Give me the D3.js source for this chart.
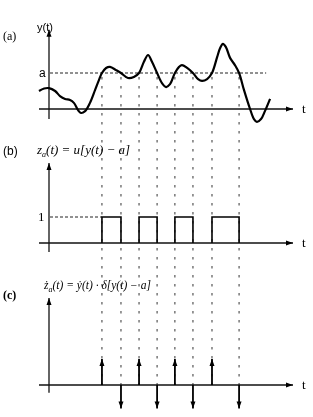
<!DOCTYPE html>
<html lang="en">
<head>
    <meta charset="UTF-8">
    <title>Level crossings</title>
    <style>
        body { margin: 0; background: #fff; }
        svg { will-change: transform; }
        .axis { stroke: #111; stroke-width: 1.3px; fill: none; }
        .curve { stroke: #000; stroke-width: 2.2px; fill: none; }
        .level { stroke: #222; stroke-width: 1px; stroke-dasharray: 3,2; }
        .drop { stroke: #333; stroke-width: 1px; stroke-dasharray: 2.5,6.5; }
        .pulse { stroke: #000; stroke-width: 1.6px; fill: none; }
        .impulse { stroke: #000; stroke-width: 1.8px; }
        .serif { font-family: "Liberation Serif", "Times New Roman", "DejaVu Serif", serif; fill: #000; }
        .sans { font-family: "Liberation Sans", Arial, sans-serif; fill: #000; }
        .formula { font-family: "Liberation Serif", "Times New Roman", "DejaVu Serif", serif; font-style: italic; fill: #000; }
        .formula tspan { fill: #000; }
    </style>
</head>
<body>
    <script src="https://d3js.org/d3.v7.min.js"></script>
    <script>
        // y(t) (a = 1)
        const tValues = [-0.41, -0.20, 0, 0.25, 0.45, 0.66, 0.86, 1.02, 1.19, 1.31, 1.48, 1.68, 1.89, 2.05,
            2.17, 2.34, 2.50, 2.75, 2.95, 3.24, 3.48, 3.69, 3.89, 4.06, 4.22, 4.43, 4.63, 4.80, 4.96,
            5.16, 5.33, 5.45, 5.66, 5.90, 6.11, 6.27, 6.48, 6.68, 6.89, 7.01, 7.13, 7.25, 7.42, 7.62,
            7.79, 7.99, 8.24, 8.40, 8.52, 8.69, 8.85, 9.06];
        const yValues = [0.50, 0.57, 0.58, 0.50, 0.36, 0.28, 0.25, 0.17, -0.03, -0.11, -0.06, 0.17, 0.53, 0.81,
            1.00, 1.14, 1.17, 1.08, 1.00, 0.86, 0.89, 1.00, 1.31, 1.50, 1.31, 1.00, 0.72, 0.61, 0.69,
            1.00, 1.17, 1.22, 1.14, 1.00, 0.83, 0.78, 0.83, 1.00, 1.44, 1.69, 1.81, 1.72, 1.42, 1.22,
            1.00, 0.53, 0.00, -0.28, -0.36, -0.28, -0.06, 0.28];

        const level = 1;
        const upCrossings = [2.17, 3.69, 5.16, 6.68];
        const downCrossings = [2.95, 4.43, 5.90, 7.79];
        const upImpulse = [1, 1, 1, 1];
        const downImpulse = [-0.9, -0.9, -0.9, -0.9];

        const width = 313, height = 417;

        const svg = d3.select("body").append("svg")
            .attr("width", width)
            .attr("height", height);

        svg.append("rect").attr("width", width).attr("height", height).attr("fill", "#fff");

        svg.append("defs").append("marker")
            .attr("id", "head")
            .attr("markerUnits", "userSpaceOnUse")
            .attr("viewBox", "0 -3 7 6")
            .attr("refX", 7).attr("refY", 0)
            .attr("markerWidth", 7).attr("markerHeight", 6)
            .attr("orient", "auto")
            .append("path")
            .attr("d", "M0,-2.5L7,0L0,2.5Z")
            .attr("fill", "#000");

        const x = d3.scaleLinear().domain([0, 10]).range([49, 293]);
        const yA = d3.scaleLinear().domain([0, 1]).range([109, 73]);
        const yB = d3.scaleLinear().domain([0, 1]).range([243, 217]);
        const yC = d3.scaleLinear().domain([0, 1]).range([385, 359]);

        // dotted drop lines from the crossings down to panel (c)
        const crossings = upCrossings.concat(downCrossings);
        svg.append("g").selectAll("line")
            .data(crossings)
            .enter().append("line")
            .attr("class", "drop")
            .attr("x1", d => x(d)).attr("x2", d => x(d))
            .attr("y1", yA(level) + 4)
            .attr("y2", yC(0));

        // axes for the three panels
        const panels = [
            { y: yA, top: 2.2, bottom: -0.28 },
            { y: yB, top: 3.08, bottom: -0.35 },
            { y: yC, top: 3.35, bottom: -0.3 }
        ];
        panels.forEach(p => {
            svg.append("line").attr("class", "axis")
                .attr("x1", x(-0.41)).attr("x2", x(10))
                .attr("y1", p.y(0)).attr("y2", p.y(0))
                .attr("marker-end", "url(#head)");
            svg.append("line").attr("class", "axis")
                .attr("x1", x(0)).attr("x2", x(0))
                .attr("y1", p.y(p.bottom)).attr("y2", p.y(p.top))
                .attr("marker-end", "url(#head)");
            svg.append("text").attr("class", "serif")
                .attr("x", x(10) + 9).attr("y", p.y(0) + 4)
                .attr("font-size", 13)
                .text("t");
        });

        // (a) y(t)
        svg.append("line").attr("class", "level")
            .attr("x1", x(0) + 1).attr("x2", x(8.9))
            .attr("y1", yA(level)).attr("y2", yA(level));

        svg.append("path")
            .datum(tValues.map((t, i) => [t, yValues[i]]))
            .attr("class", "curve")
            .attr("d", d3.line()
                .x(d => x(d[0]))
                .y(d => yA(d[1]))
                .curve(d3.curveCatmullRom.alpha(0.5)));

        svg.append("text").attr("class", "serif").attr("font-size", 12)
            .attr("x", 3).attr("y", 40).text("(a)");
        svg.append("text").attr("class", "sans").attr("font-size", 11)
            .attr("x", 37).attr("y", 31).text("y(t)");
        svg.append("text").attr("class", "sans").attr("font-size", 12)
            .attr("x", 39).attr("y", yA(level) + 4).text("a");

        // (b) z_a(t)
        svg.append("line").attr("class", "level")
            .attr("x1", x(0) + 1).attr("x2", x(upCrossings[0]))
            .attr("y1", yB(1)).attr("y2", yB(1));

        const pulses = upCrossings.map((t, i) => [t, downCrossings[i]]);
        svg.append("g").selectAll("path")
            .data(pulses)
            .enter().append("path")
            .attr("class", "pulse")
            .attr("d", d => `M${x(d[0])},${yB(0)}V${yB(1)}H${x(d[1])}V${yB(0)}`);

        svg.append("text").attr("class", "sans").attr("font-size", 12)
            .attr("x", 3).attr("y", 155).text("(b)");
        svg.append("text").attr("class", "serif").attr("font-size", 13)
            .attr("x", 38).attr("y", yB(1) + 4).text("1");

        const fb = svg.append("text").attr("class", "formula")
            .attr("font-size", 13)
            .attr("x", 37).attr("y", 154);
        fb.append("tspan").text("z");
        fb.append("tspan").attr("font-size", 8).attr("dy", 3).text("a");
        fb.append("tspan").attr("dy", -3).text("(t) = u[y(t) \u2212 a]");

        // (c) derivative: impulses at the crossings
        const impulses = upCrossings.map((t, i) => ({ t: t, v: upImpulse[i] }))
            .concat(downCrossings.map((t, i) => ({ t: t, v: downImpulse[i] })));
        svg.append("g").selectAll("line")
            .data(impulses)
            .enter().append("line")
            .attr("class", "impulse")
            .attr("x1", d => x(d.t)).attr("x2", d => x(d.t))
            .attr("y1", yC(0)).attr("y2", d => yC(d.v))
            .attr("marker-end", "url(#head)");

        svg.append("text").attr("class", "serif").attr("font-size", 12)
            .attr("font-weight", "bold")
            .attr("x", 3).attr("y", 299).text("(c)");

        const fc = svg.append("text").attr("class", "formula")
            .attr("font-size", 11.5)
            .attr("x", 44).attr("y", 289);
        fc.append("tspan").text("\u017c");
        fc.append("tspan").attr("font-size", 8).attr("dy", 3).text("a");
        fc.append("tspan").attr("dy", -3).text("(t) = \u1e8f(t) \u00b7 \u03b4[y(t) \u2212 a]");
    </script>
</body>
</html>
